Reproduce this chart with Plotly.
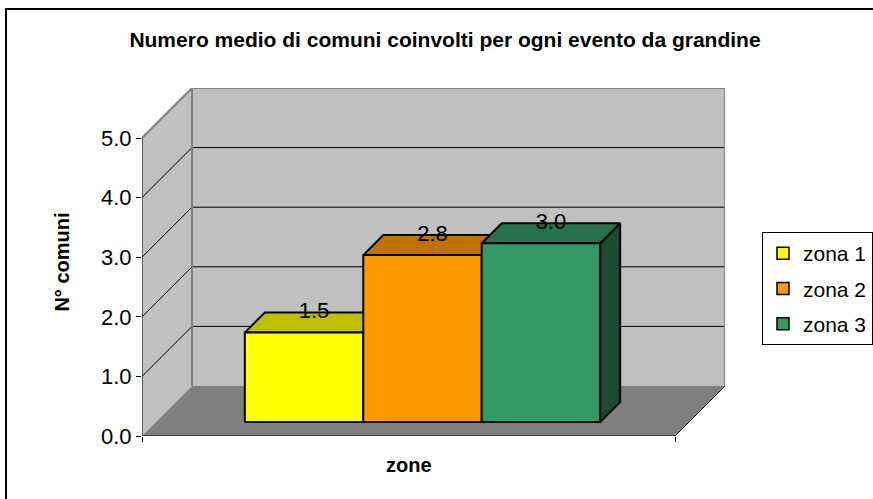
import plotly.graph_objects as go

# ---- data ----
chart_title = "Numero medio di comuni coinvolti per ogni evento da grandine"
series_names = ["zona 1", "zona 2", "zona 3"]
series_values = [1.5, 2.8, 3.0]
value_labels = ["1.5", "2.8", "3.0"]
front_colors = ["#FFFF00", "#FF9900", "#339966"]
y_tickvals = [0, 1, 2, 3, 4, 5]
y_ticktext = ["0.0", "1.0", "2.0", "3.0", "4.0", "5.0"]
y_title = "N° comuni"
x_title = "zone"

# ---- 3D projection styling ----
W, H = 873, 499
ML, MR, MT, MB = 142, 148, 88, 63
YMAX = 5.0
DX, DY = 0.0938, 0.839          # depth vector in data units
GAP = 1.5                        # Excel gap width (150%)
D0, D1 = 0.28, 0.68              # bar depth span (fraction of depth)
FONT = "Liberation Sans, Arial, sans-serif"
WALL = "#C0C0C0"
FLOOR = "#808080"
EDGE = "#808080"


def shade(hexcol, f):
    h = hexcol.lstrip("#")
    r, g, b = (int(h[i:i + 2], 16) for i in (0, 2, 4))
    return "#%02X%02X%02X" % (int(r * f), int(g * f), int(b * f))


fig = go.Figure()

n = len(series_values)
bar_w = 1.0 / (n + GAP)
left0 = 0.5 - n * bar_w / 2
bx, by = (D1 - D0) * DX, (D1 - D0) * DY

# legend / base bar traces (front faces, covered later by shaded polygons)
for i, (name, v, col) in enumerate(zip(series_names, series_values, front_colors)):
    fx0 = left0 + i * bar_w + D0 * DX
    fig.add_trace(go.Bar(
        x=[fx0 + bar_w / 2], y=[v], base=[D0 * DY], width=[bar_w],
        name=name, legendgroup=name,
        marker=dict(color=col, line=dict(color="black", width=1.5)),
        hoverinfo="skip"))


def poly(xs, ys, fill=None, lc="black", lw=0, closed=True):
    if closed:
        xs = list(xs) + [xs[0]]
        ys = list(ys) + [ys[0]]
    fig.add_trace(go.Scatter(
        x=xs, y=ys, mode="lines",
        fill="toself" if fill else None, fillcolor=fill,
        line=dict(color=lc, width=lw), showlegend=False, hoverinfo="skip"))


# walls and floor
poly([0, 0, DX, DX], [0, YMAX, YMAX + DY, DY], WALL, WALL, 0)
poly([DX, 1 + DX, 1 + DX, DX], [DY, DY, YMAX + DY, YMAX + DY], WALL, WALL, 0)
poly([0, 1, 1 + DX, DX], [0, 0, DY, DY], FLOOR, FLOOR, 0)

# gridlines
for v in y_tickvals[1:-1]:
    poly([0, DX, 1 + DX], [v, v + DY, v + DY], None, "black", 1, closed=False)

# wall edges
poly([0, DX, 1 + DX, 1 + DX], [YMAX, YMAX + DY, YMAX + DY, DY], None, EDGE, 2, closed=False)
poly([DX, DX], [DY, YMAX + DY], None, EDGE, 2, closed=False)
poly([1, 1 + DX], [0, DY], None, "black", 1, closed=False)

# front axes lines
poly([0, 0], [0, YMAX], None, "black", 1, closed=False)
poly([0, 1], [0, 0], None, "black", 1, closed=False)

# bars as 3D boxes
lab_x, lab_y = [], []
for i, (v, col) in enumerate(zip(series_values, front_colors)):
    fx0 = left0 + i * bar_w + D0 * DX
    fx1 = fx0 + bar_w
    fy0 = D0 * DY
    fy1 = fy0 + v
    poly([fx1, fx1 + bx, fx1 + bx, fx1], [fy0, fy0 + by, fy1 + by, fy1], shade(col, 0.5), "black", 2)
    poly([fx0, fx1, fx1 + bx, fx0 + bx], [fy1, fy1, fy1 + by, fy1 + by], shade(col, 0.75), "black", 2)
    poly([fx0, fx1, fx1, fx0], [fy0, fy0, fy1, fy1], col, "black", 2)
    lab_x.append(fx0 + bar_w / 2 + bx / 2)
    lab_y.append(fy1 + by)

fig.add_trace(go.Scatter(
    x=lab_x, y=lab_y, mode="text", text=value_labels, textposition="middle center",
    textfont=dict(family=FONT, size=22, color="black"), showlegend=False, hoverinfo="skip"))

pw, ph = W - ML - MR, H - MT - MB


def px_to_paper_x(px):
    return (px - ML) / pw


def px_to_paper_y(py):
    return (H - MB - py) / ph


fig.update_layout(
    width=W, height=H,
    margin=dict(l=ML, r=MR, t=MT, b=MB, autoexpand=False),
    paper_bgcolor="white", plot_bgcolor="white",
    font=dict(family=FONT, size=22, color="black"),
    hovermode=False,
    barmode="overlay",
    title=dict(text=chart_title, x=445 / W, xref="container", xanchor="center",
               y=1 - 40 / H, yref="container", yanchor="middle",
               font=dict(family=FONT, size=21, weight="bold", color="black")),
    xaxis=dict(range=[0, 1 + DX], showgrid=False, zeroline=False, showline=False,
               tickvals=[0, 1], ticktext=["", ""], ticks="outside", ticklen=5,
               tickcolor="black", fixedrange=True),
    yaxis=dict(range=[0, YMAX + DY], showgrid=False, zeroline=False, showline=False,
               tickvals=y_tickvals, ticktext=y_ticktext, ticks="outside", ticklen=5,
               tickcolor="black", tickfont=dict(size=22),
               title=dict(text=y_title, standoff=26,
                          font=dict(family=FONT, size=20, weight="bold")),
               fixedrange=True),
    legend=dict(x=px_to_paper_x(762), y=px_to_paper_y(232), xanchor="left", yanchor="top",
                bordercolor="black", borderwidth=1, bgcolor="white",
                font=dict(family=FONT, size=21), traceorder="grouped",
                tracegroupgap=5),
    annotations=[dict(text=x_title, x=0.5, xref="x", y=px_to_paper_y(465), yref="paper",
                      showarrow=False, xanchor="center", yanchor="middle",
                      font=dict(family=FONT, size=20, weight="bold"))],
    shapes=[dict(type="rect", xref="paper", yref="paper",
                 x0=px_to_paper_x(6), x1=px_to_paper_x(885),
                 y0=px_to_paper_y(510), y1=px_to_paper_y(9),
                 line=dict(color="black", width=2), fillcolor="rgba(0,0,0,0)")],
)

fig.write_html("out.html", config={"displayModeBar": False},
               post_script="document.body.style.margin='0';")
